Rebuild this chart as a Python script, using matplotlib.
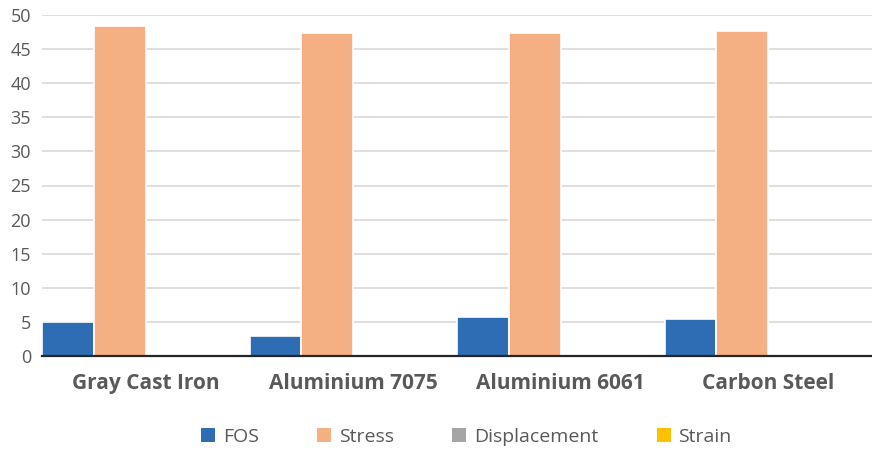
import matplotlib
matplotlib.use("Agg")
import matplotlib.pyplot as plt
import numpy as np
from matplotlib.patches import Patch

# Simulation results per material
materials = ["Gray Cast Iron", "Aluminium 7075", "Aluminium 6061", "Carbon Steel"]
fos = [5.0, 2.9, 5.7, 5.4]
stress = [48.4, 47.4, 47.4, 47.7]
displacement = [0.02, 0.05, 0.05, 0.02]
strain = [0.0002, 0.0005, 0.0005, 0.0002]

series_names = ["FOS", "Stress", "Displacement", "Strain"]
series_values = [fos, stress, displacement, strain]
colors = ["#2E6DB4", "#F4AF82", "#A5A5A5", "#FFC000"]

plt.rcParams["font.family"] = ["Open Sans", "DejaVu Sans"]

fig = plt.figure(figsize=(8.72, 4.5), dpi=100)
ax = fig.add_axes([42 / 872, 1 - 356 / 450, 1 - 42 / 872, (356 - 15) / 450])

x = np.arange(len(materials))
width = 0.25
for i, (name, vals, col) in enumerate(zip(series_names, series_values, colors)):
    ax.bar(x - 0.375 + i * width, vals, width, color=col, edgecolor="white",
           linewidth=1.2, label=name, zorder=2)

ax.set_xlim(-0.5, len(materials) - 0.5)
ax.set_ylim(0, 50)
ax.set_yticks(np.arange(0, 51, 5))
ax.yaxis.grid(True, color="#D9D9D9", linewidth=1.2, zorder=0)
ax.set_axisbelow(True)

for side in ["left", "right", "top"]:
    ax.spines[side].set_visible(False)
ax.spines["bottom"].set_color("#262626")
ax.spines["bottom"].set_linewidth(1.6)
ax.spines["bottom"].set_zorder(3)

ax.set_xticks(x)
ax.set_xticklabels(materials, fontsize=15, fontweight="bold", color="#595959")
ax.tick_params(axis="x", length=0, pad=12)
ax.tick_params(axis="y", length=0, labelsize=13, labelcolor="#595959", pad=8)

handles = [Patch(facecolor=c, edgecolor="none") for c in colors]
fig.legend(handles, series_names, loc="center", bbox_to_anchor=(0.535, 1 - 437 / 450),
           ncol=4, frameon=False, fontsize=14, labelcolor="#595959",
           handlelength=0.72, handleheight=0.72, handletextpad=0.4, columnspacing=3.0)

fig.savefig("out.png", dpi=100)
